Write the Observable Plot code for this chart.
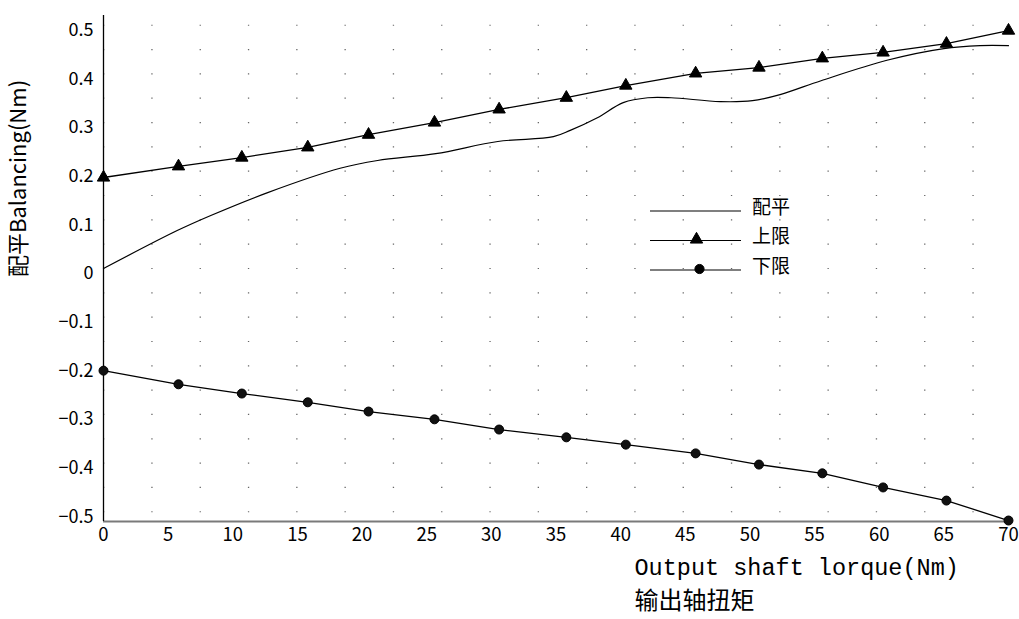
<!DOCTYPE html>
<html>
<head>
<meta charset="utf-8">
<script src="https://cdn.jsdelivr.net/npm/d3@7"></script>
<script src="https://cdn.jsdelivr.net/npm/@observablehq/plot@0.6"></script>
<style>
  html, body { margin: 0; padding: 0; background: #fff; }
  #chart { position: relative; width: 1019px; height: 619px; }
</style>
</head>
<body>
<div id="chart"></div>
<script>
// ---- data ----
const xTicks = [0, 5, 10, 15, 20, 25, 30, 35, 40, 45, 50, 55, 60, 65, 70];
const yTicks = [-0.5, -0.4, -0.3, -0.2, -0.1, 0, 0.1, 0.2, 0.3, 0.4, 0.5];

// marker positions (output shaft torque, Nm) for the limit curves
const limitTorque = [0, 5.8, 10.7, 15.8, 20.5, 25.6, 30.6, 35.8, 40.4, 45.8, 50.7, 55.6, 60.3, 65.2, 70];
const upperLimit = [0.187, 0.210, 0.228, 0.249, 0.275, 0.300, 0.327, 0.351, 0.376, 0.401, 0.413, 0.432, 0.444, 0.462, 0.489];
const lowerLimit = [-0.210, -0.238, -0.257, -0.275, -0.294, -0.310, -0.331, -0.347, -0.362, -0.380, -0.403, -0.421, -0.450, -0.477, -0.518];

// balancing curve (配平)
const balanceTorque = [0, 5.7, 8.3, 12.7, 18.3, 21.2, 25.7, 30.5, 34.8, 36.1, 38.2, 40.2, 42.1, 43.9, 47.7, 50.2, 52.4, 55.5, 60.6, 65.0, 67.8, 70];
const balanceValue = [0.000, 0.078, 0.109, 0.156, 0.206, 0.222, 0.236, 0.261, 0.271, 0.284, 0.310, 0.341, 0.351, 0.351, 0.343, 0.345, 0.358, 0.386, 0.428, 0.452, 0.458, 0.458];

const seriesNames = ["配平", "上限", "下限"];
const xLabel = "Output shaft lorque(Nm)";
const xLabelCn = "输出轴扭矩";
const yLabel = "配平Balancing(Nm)";

// ---- tables built from the arrays ----
const upperData = limitTorque.map((t, i) => ({t, v: upperLimit[i]}));
const lowerData = limitTorque.map((t, i) => ({t, v: lowerLimit[i]}));
const balanceData = balanceTorque.map((t, i) => ({t, v: balanceValue[i]}));
const gridLevels = d3.range(-0.5, 0.5001, 0.05).map(v => +v.toFixed(2));

const cjk = "'Noto Sans CJK SC', 'Noto Sans CJK JP', sans-serif";

const svg = Plot.plot({
  width: 1019,
  height: 619,
  marginLeft: 103,
  marginRight: 11,
  marginTop: 15,
  marginBottom: 98,
  style: {fontFamily: cjk, fontSize: "18px", background: "#fff", color: "#000"},
  x: {domain: [0, 70]},
  y: {domain: [-0.52, 0.52]},
  marks: [
    // sparse dotted grid
    Plot.ruleY(gridLevels, {stroke: "#333", strokeOpacity: 0.75, strokeWidth: 1.2, strokeDasharray: "1.3,47"}),
    // axes lines
    Plot.ruleY([-0.52], {stroke: "#7a7a7a", strokeWidth: 2}),
    Plot.ruleX([0], {stroke: "#000", strokeWidth: 1.3}),
    Plot.axisX(xTicks, {tickSize: 0, tickPadding: 6, fontSize: 18.5, label: null, tickFormat: d => String(d)}),
    Plot.axisY(yTicks, {tickSize: 0, tickPadding: 10, fontSize: 18, label: null, dy: 5,
      tickFormat: d => d === 0 ? "0" : d3.format(".1f")(d)}),
    // curves
    Plot.line(balanceData, {x: "t", y: "v", stroke: "#000", strokeWidth: 1.2, curve: "catmull-rom"}),
    Plot.line(upperData, {x: "t", y: "v", stroke: "#000", strokeWidth: 1.3}),
    Plot.line(lowerData, {x: "t", y: "v", stroke: "#000", strokeWidth: 1.3}),
    Plot.dot(upperData, {x: "t", y: "v", symbol: "triangle", r: 4.6, fill: "#000", stroke: "#000", strokeWidth: 1}),
    Plot.dot(lowerData, {x: "t", y: "v", symbol: "circle", r: 4.5, fill: "#111", stroke: "#000", strokeWidth: 1}),
    // axis titles
    Plot.text([xLabel], {frameAnchor: "bottom", textAnchor: "start", dx: 78.5, dy: 53,
      fontFamily: "'Liberation Mono', 'DejaVu Sans Mono', monospace", fontSize: 23.5, fill: "#000"}),
    Plot.text([xLabelCn], {frameAnchor: "bottom", textAnchor: "start", dx: 78.5, dy: 87,
      fontFamily: cjk, fontSize: 24, fill: "#000", letterSpacing: "3px"}),
    Plot.text([yLabel], {frameAnchor: "left", rotate: -90, textAnchor: "middle", dx: -85, dy: -90,
      fontFamily: cjk, fontSize: 22, fill: "#000", letterSpacing: "0.5px"})
  ]
});

// ---- legend (inside the plot area) ----
const L = d3.select(svg).append("g").attr("class", "legend").attr("fill", "none").attr("text-anchor", "start");
const legendLeft = 650, legendRight = 741, legendTop = 211, legendGap = 29.5;
seriesNames.forEach((name, i) => {
  const y = legendTop + i * legendGap;
  L.append("line").attr("x1", legendLeft).attr("x2", legendRight).attr("y1", y).attr("y2", y)
    .attr("stroke", "#000").attr("stroke-width", 1.2);
  if (i > 0) {
    const sym = i === 1 ? d3.symbolTriangle : d3.symbolCircle;
    L.append("path").attr("d", d3.symbol(sym, Math.PI * 4.6 * 4.6)())
      .attr("transform", `translate(${(legendLeft + legendRight) / 2 + (i === 1 ? 1 : 4)},${y - 1})`)
      .attr("fill", "#000").attr("stroke", "#000");
  }
  L.append("text").attr("x", legendRight + 11).attr("y", y - 4).attr("dy", "0.35em")
    .attr("text-anchor", "start")
    .attr("fill", "#000").attr("font-family", cjk).attr("font-size", 19).text(name);
});

document.getElementById("chart").appendChild(svg);
</script>
</body>
</html>
